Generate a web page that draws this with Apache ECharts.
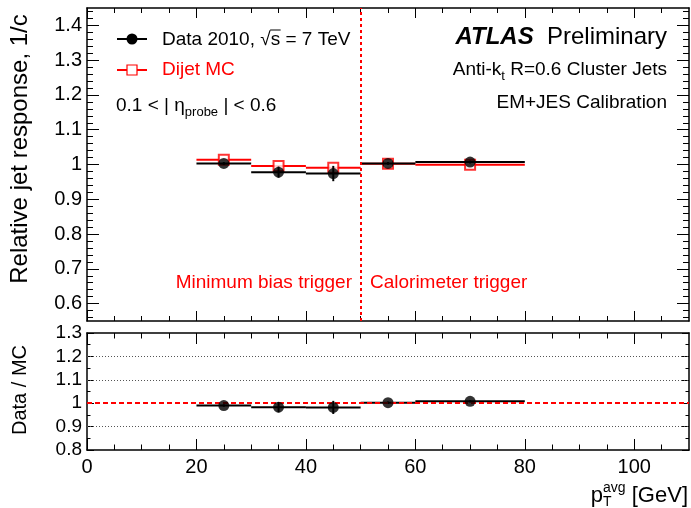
<!DOCTYPE html>
<html><head><meta charset="utf-8">
<script src="https://cdn.jsdelivr.net/npm/echarts@6/dist/echarts.min.js"></script>
<style>html,body{margin:0;padding:0;background:#fff}#c{width:691px;height:508px}</style>
</head><body><div id="c"></div>
<script>
// ---------------- data ----------------
const binLo = [20, 30, 40, 50, 60];
const binHi = [30, 40, 50, 60, 80];
const binCenter = [25, 35, 45, 55, 70];
const dataResp = [1.003, 0.978, 0.974, 1.003, 1.007];
const dataErr = [0.004, 0.016, 0.022, 0.004, 0.004];
const mcResp = [1.014, 0.996, 0.991, 1.002, 0.999];
const mcErr = [0.002, 0.002, 0.002, 0.002, 0.002];
const ratioVals = [0.990, 0.983, 0.982, 1.002, 1.008];
const ratioErr = [0.005, 0.022, 0.028, 0.005, 0.005];
const triggerSplit = 50;
const ratioRefLine = 1;
const ratioGridLines = [1.2, 1.1, 0.9];

// tick labels
const xMajorTicks = [0, 20, 40, 60, 80, 100];
const xMinorTicks = [5, 10, 15, 25, 30, 35, 45, 50, 55, 65, 70, 75, 85, 90, 95, 105];
const topYMajorTicks = [0.6, 0.7, 0.8, 0.9, 1.0, 1.1, 1.2, 1.3, 1.4];
const topYMinorTicks = [];
for (let i = 28; i <= 72; i++) if (i % 5 !== 0) topYMinorTicks.push(+(i * 0.02).toFixed(2));
const botYMajorTicks = [0.8, 0.9, 1.0, 1.1, 1.2, 1.3];
const botYMinorTicks = [0.85, 0.95, 1.05, 1.15, 1.25];

// ---------------- helpers ----------------
const FF = "'Liberation Sans', Arial, Helvetica, sans-serif";
const RED = '#ff0000';
const fmt = v => String(+(+v).toFixed(2));

function axisPair(kind, gridIndex, position, min, max, major, minor, majLen, minLen, label) {
  const base = { type: 'value', gridIndex, position, min, max, splitLine: { show: false }, scale: true };
  const maj = Object.assign({}, base, {
    axisLine: { show: true, onZero: false, lineStyle: { color: '#000', width: 1.5 } },
    axisTick: { show: true, inside: true, length: majLen, customValues: major, lineStyle: { color: '#000', width: 1 } },
    axisLabel: label ? Object.assign({ show: true, customValues: major, formatter: fmt, color: '#000', fontFamily: FF }, label) : { show: false }
  });
  const mnr = Object.assign({}, base, {
    axisLine: { show: false, onZero: false },
    axisTick: { show: true, inside: true, length: minLen, customValues: minor, lineStyle: { color: '#000', width: 1 } },
    axisLabel: { show: false }
  });
  return [maj, mnr];
}

const xAxes = [].concat(
  axisPair('x', 0, 'bottom', 0, 110, xMajorTicks, xMinorTicks, 10, 5, null),   // 0,1
  axisPair('x', 0, 'top', 0, 110, xMajorTicks, xMinorTicks, 10, 5, null),      // 2,3
  axisPair('x', 1, 'bottom', 0, 110, xMajorTicks, xMinorTicks, 11, 5.5, { fontSize: 20, margin: 7 }), // 4,5
  axisPair('x', 1, 'top', 0, 110, xMajorTicks, xMinorTicks, 11, 5.5, null)     // 6,7
);
const yAxes = [].concat(
  axisPair('y', 0, 'left', 0.55, 1.45, topYMajorTicks, topYMinorTicks, 12, 6, { fontSize: 20, margin: 5 }), // 0,1
  axisPair('y', 0, 'right', 0.55, 1.45, topYMajorTicks, topYMinorTicks, 12, 6, null), // 2,3
  axisPair('y', 1, 'left', 0.8, 1.3, botYMajorTicks, botYMinorTicks, 7, 3.5, { fontSize: 19, margin: 5 }), // 4,5
  axisPair('y', 1, 'right', 0.8, 1.3, botYMajorTicks, botYMinorTicks, 7, 3.5, null) // 6,7
);

function stepSeries(xi, yi, vals, errs, color, z) {
  const data = binCenter.map((c, i) => [c, vals[i], binLo[i], binHi[i], errs[i]]);
  return {
    type: 'custom', xAxisIndex: xi, yAxisIndex: yi, z, data, silent: true,
    encode: { x: [0, 2, 3], y: [1] },
    renderItem(params, api) {
      const c = api.value(0), v = api.value(1), lo = api.value(2), hi = api.value(3), e = api.value(4);
      const p1 = api.coord([lo, v]), p2 = api.coord([hi, v]);
      const e1 = api.coord([c, v - e]), e2 = api.coord([c, v + e]);
      return { type: 'group', children: [
        { type: 'line', shape: { x1: p1[0], y1: p1[1], x2: p2[0], y2: p2[1] }, style: { stroke: color, lineWidth: 2 } },
        { type: 'line', shape: { x1: e1[0], y1: e1[1], x2: e2[0], y2: e2[1] }, style: { stroke: color, lineWidth: 2 } }
      ] };
    }
  };
}

// text layout
const mctx = document.createElement('canvas').getContext('2d');
function measure(t, p) {
  mctx.font = `${p.style || 'normal'} ${p.weight || 'normal'} ${p.size}px ${FF}`;
  return mctx.measureText(t).width;
}
function textRun(x, y, parts, align) {
  const adv = parts.map(p => p.adv !== undefined ? p.adv : measure(p.t, p));
  const total = adv.reduce((a, b) => a + b, 0);
  let cx = align === 'right' ? x - total : x;
  const out = [];
  parts.forEach((p, i) => {
    out.push({ type: 'text', x: cx, y: y + (p.dy || 0), silent: true, z: 50,
      style: { text: p.t, fontSize: p.size, fontFamily: FF, fontWeight: p.weight || 'normal', fontStyle: p.style || 'normal',
        fill: p.color || '#000', align: 'left', verticalAlign: 'middle' } });
    p._x = cx;
    cx += adv[i];
  });
  return out;
}

const graphics = [];
// y-axis titles
graphics.push({ type: 'text', x: 20, y: 149, rotation: Math.PI / 2, silent: true,
  style: { text: 'Relative jet response, 1/c', fontSize: 24, fontFamily: FF, fill: '#000', align: 'center', verticalAlign: 'middle' } });
graphics.push({ type: 'text', x: 20, y: 390, rotation: Math.PI / 2, silent: true,
  style: { text: 'Data / MC', fontSize: 20, fontFamily: FF, fill: '#000', align: 'center', verticalAlign: 'middle' } });

// x-axis title  p_T^avg [GeV]
const wAvg = measure('avg', { size: 14 }), wT = measure('T', { size: 14 });
graphics.push(...textRun(688, 496, [
  { t: 'p', size: 22 },
  { t: 'avg', size: 14, dy: -8, adv: 0 },
  { t: 'T', size: 14, dy: 6, adv: Math.max(wAvg, wT) },
  { t: ' [GeV]', size: 22 }
], 'right'));

// legend
graphics.push({ type: 'line', shape: { x1: 117, y1: 39, x2: 147, y2: 39 }, style: { stroke: '#000', lineWidth: 2 }, silent: true });
graphics.push({ type: 'circle', shape: { cx: 132, cy: 39, r: 5.5 }, style: { fill: '#000' }, silent: true });
graphics.push({ type: 'line', shape: { x1: 117, y1: 70, x2: 147, y2: 70 }, style: { stroke: RED, lineWidth: 2 }, silent: true });
graphics.push({ type: 'rect', shape: { x: 127, y: 65, width: 10, height: 10 }, style: { fill: '#fff', stroke: RED, lineWidth: 1.2 }, silent: true });
const legParts = [{ t: 'Data 2010, \u221A', size: 19 }, { t: 's', size: 19 }, { t: ' = 7 TeV', size: 19 }];
graphics.push(...textRun(162, 40, legParts));
const sX = legParts[1]._x, sW = measure('s', { size: 19 });
graphics.push({ type: 'line', shape: { x1: sX - 0.5, y1: 30, x2: sX + sW + 0.5, y2: 30 }, style: { stroke: '#000', lineWidth: 1 }, silent: true });
graphics.push(...textRun(162, 70, [{ t: 'Dijet MC', size: 19, color: RED }]));
graphics.push(...textRun(116, 106, [
  { t: '0.1 < | \u03B7', size: 19 },
  { t: 'probe', size: 13, dy: 6 },
  { t: ' | < 0.6', size: 19 }
]));

// ATLAS label
graphics.push(...textRun(667, 37, [
  { t: 'ATLAS', size: 24, weight: 'bold', style: 'italic' },
  { t: '  ', size: 24 },
  { t: 'Preliminary', size: 24 }
], 'right'));
graphics.push(...textRun(667, 70, [
  { t: 'Anti-k', size: 19 },
  { t: 't', size: 13, dy: 6 },
  { t: ' R=0.6 Cluster Jets', size: 19 }
], 'right'));
graphics.push(...textRun(667, 103, [{ t: 'EM+JES Calibration', size: 19 }], 'right'));

// trigger annotations
graphics.push(...textRun(352, 283, [{ t: 'Minimum bias trigger', size: 19, color: RED }], 'right'));
graphics.push(...textRun(370, 283, [{ t: 'Calorimeter trigger', size: 19, color: RED }]));

const option = {
  animation: false,
  backgroundColor: '#fff',
  grid: [
    { left: 87, top: 8, width: 602, height: 313 },
    { left: 87, top: 333, width: 602, height: 117 }
  ],
  xAxis: xAxes,
  yAxis: yAxes,
  graphic: graphics,
  series: [
    // top panel
    stepSeries(0, 0, mcResp, mcErr, RED, 2),
    {
      type: 'scatter', xAxisIndex: 0, yAxisIndex: 0, z: 3, silent: true,
      symbol: 'emptyRect', symbolSize: 10,
      itemStyle: { color: RED, borderColor: RED, borderWidth: 1.2 },
      data: binCenter.map((c, i) => [c, mcResp[i]]),
      markLine: { silent: true, symbol: 'none', label: { show: false },
        lineStyle: { color: RED, type: [3, 3], width: 2 },
        data: [{ xAxis: triggerSplit }] }
    },
    stepSeries(0, 0, dataResp, dataErr, '#000', 4),
    {
      type: 'scatter', xAxisIndex: 0, yAxisIndex: 0, z: 5, silent: true,
      symbol: 'circle', symbolSize: 11, itemStyle: { color: '#000' },
      data: binCenter.map((c, i) => [c, dataResp[i]])
    },
    // bottom panel
    {
      type: 'scatter', xAxisIndex: 4, yAxisIndex: 4, z: 1, silent: true, data: [],
      markLine: { silent: true, symbol: 'none', label: { show: false },
        data: ratioGridLines.map(v => ({ yAxis: v, lineStyle: { color: '#555', type: [1, 2], width: 1 } }))
          .concat([{ yAxis: ratioRefLine, lineStyle: { color: RED, type: [5, 3], width: 2 } }]) }
    },
    stepSeries(4, 4, ratioVals, ratioErr, '#000', 4),
    {
      type: 'scatter', xAxisIndex: 4, yAxisIndex: 4, z: 5, silent: true,
      symbol: 'circle', symbolSize: 11, itemStyle: { color: '#000' },
      data: binCenter.map((c, i) => [c, ratioVals[i]])
    }
  ]
};
const chart = echarts.init(document.getElementById('c'), null, { renderer: 'canvas' });
chart.setOption(option);
</script>
</body></html>
